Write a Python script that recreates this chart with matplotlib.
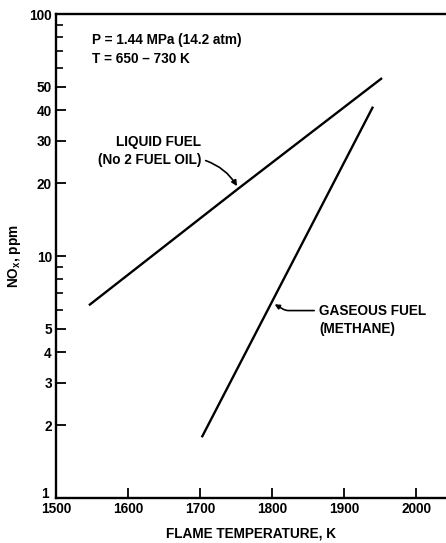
import matplotlib.pyplot as plt
import matplotlib.transforms as mtransforms
from matplotlib.ticker import FixedLocator, NullFormatter

plt.rcParams['font.family'] = ['Liberation Sans', 'DejaVu Sans']
plt.rcParams['font.weight'] = 'bold'

# values
liquid_temp = [1547, 1753, 1951]
liquid_nox = [6.3, 19.0, 54.0]
gas_temp = [1703, 1939]
gas_nox = [1.8, 41.0]

x_ticks = [1500, 1600, 1700, 1800, 1900, 2000]
y_ticks = [1, 2, 3, 4, 5, 10, 20, 30, 40, 50, 100]
y_minor = [6, 7, 8, 9, 60, 70, 80, 90]

fs = 9.8

fig = plt.figure(figsize=(4.46, 5.43), dpi=100)
ax = fig.add_axes([56/446, 45/543, 390/446, 484/543])

ax.plot(liquid_temp, liquid_nox, color='black', lw=1.7)
ax.plot(gas_temp, gas_nox, color='black', lw=1.7)

ax.set_yscale('log')
ax.set_xlim(1500, 2041)
ax.set_ylim(1, 100)

ax.yaxis.set_major_locator(FixedLocator(y_ticks))
ax.set_yticklabels([str(v) for v in y_ticks])
ax.yaxis.set_minor_locator(FixedLocator(y_minor))
ax.yaxis.set_minor_formatter(NullFormatter())
ax.set_xticks(x_ticks)
ax.set_xticklabels([str(v) for v in x_ticks])

ax.spines['right'].set_visible(False)
for s in ['left', 'bottom', 'top']:
    ax.spines[s].set_linewidth(1.7)
ax.tick_params(axis='both', which='major', direction='in', length=7, width=1.3,
               labelsize=fs, pad=3)
ax.tick_params(axis='y', which='minor', direction='in', length=5, width=1.2)
ax.tick_params(axis='x', which='minor', bottom=False)

# the "1" sits a little above and left of the 1500 label
one = ax.get_yticklabels()[0]
one.set_transform(one.get_transform() +
                  mtransforms.ScaledTranslation(-2/72, 4/72, fig.dpi_scale_trans))

ax.set_xlabel('FLAME TEMPERATURE, K', fontsize=fs, fontweight='bold')
ax.xaxis.set_label_coords(0.5, -28/484)
ax.set_ylabel('NO$_\\mathregular{x}$, ppm', fontsize=fs, fontweight='bold')
ax.yaxis.set_label_coords(-33/390, 0.5)

ax.text(1550, 78, 'P = 1.44 MPa (14.2 atm)', fontsize=fs, va='center')
ax.text(1550, 65, 'T = 650 \u2013 730 K', fontsize=fs, va='center')

ax.text(1642, 29.5, 'LIQUID FUEL', fontsize=fs, ha='center', va='center')
ax.text(1630, 25, '(No 2 FUEL OIL)', fontsize=fs, ha='center', va='center')
ax.annotate('', xy=(1753, 19.0), xytext=(1704, 25),
            arrowprops=dict(arrowstyle='-|>', color='black', lw=1.2,
                            connectionstyle='arc3,rad=-0.2',
                            mutation_scale=8))

ax.text(1865, 5.95, 'GASEOUS FUEL', fontsize=fs, va='center')
ax.text(1865, 5.0, '(METHANE)', fontsize=fs, va='center')
ax.annotate('', xy=(1800, 6.4), xytext=(1862, 5.95),
            arrowprops=dict(arrowstyle='-|>', color='black', lw=1.2,
                            connectionstyle='angle,angleA=180,angleB=150,rad=3',
                            mutation_scale=7))

fig.savefig('out.png', dpi=100)
